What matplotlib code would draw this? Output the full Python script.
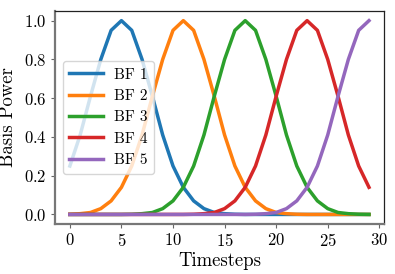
import numpy as np
import matplotlib.pyplot as plt

# basis function values, one per timestep 0..29
timesteps = list(range(30))
bf1 = [0.25, 0.41, 0.61, 0.80, 0.95, 1.00, 0.95, 0.80, 0.61, 0.41,
       0.25, 0.14, 0.07, 0.03, 0.01, 0.004, 0.001, 0, 0, 0,
       0, 0, 0, 0, 0, 0, 0, 0, 0, 0]
bf2 = [0.001, 0.004, 0.01, 0.03, 0.07, 0.14, 0.25, 0.41, 0.61, 0.80,
       0.95, 1.00, 0.95, 0.80, 0.61, 0.41, 0.25, 0.14, 0.07, 0.03,
       0.01, 0.004, 0.001, 0, 0, 0, 0, 0, 0, 0]
bf3 = [0, 0, 0, 0, 0, 0, 0.001, 0.004, 0.01, 0.03,
       0.07, 0.14, 0.25, 0.41, 0.61, 0.80, 0.95, 1.00, 0.95, 0.80,
       0.61, 0.41, 0.25, 0.14, 0.07, 0.03, 0.01, 0.004, 0.001, 0]
bf4 = [0, 0, 0, 0, 0, 0, 0, 0, 0, 0,
       0, 0, 0.001, 0.004, 0.01, 0.03, 0.07, 0.14, 0.25, 0.41,
       0.61, 0.80, 0.95, 1.00, 0.95, 0.80, 0.61, 0.41, 0.25, 0.14]
bf5 = [0, 0, 0, 0, 0, 0, 0, 0, 0, 0,
       0, 0, 0, 0, 0, 0, 0, 0, 0.001, 0.004,
       0.01, 0.03, 0.07, 0.14, 0.25, 0.41, 0.61, 0.80, 0.95, 1.00]
labels = ['BF 1', 'BF 2', 'BF 3', 'BF 4', 'BF 5']

plt.rcParams['font.family'] = 'cmr10'
plt.rcParams['axes.formatter.use_mathtext'] = True
plt.rcParams['mathtext.fontset'] = 'cm'

fig, ax = plt.subplots(figsize=(3.95, 2.74), dpi=100)
fig.subplots_adjust(left=0.139, right=0.972, top=0.96, bottom=0.182)

for series, lab in zip([bf1, bf2, bf3, bf4, bf5], labels):
    ax.plot(timesteps, series, lw=2.5, label=lab)

ax.set_xticks([0, 5, 10, 15, 20, 25, 30])
ax.set_yticks([0.0, 0.2, 0.4, 0.6, 0.8, 1.0])
ax.set_xlabel('Timesteps', fontsize=13.5, labelpad=2)
ax.set_ylabel('Basis Power', fontsize=13.5, labelpad=5)
ax.tick_params(labelsize=12, length=3, color='#666666', pad=3)

for side in ['left', 'bottom']:
    ax.spines[side].set_color('#777777')
    ax.spines[side].set_linewidth(1.6)
for side in ['top', 'right']:
    ax.spines[side].set_color('#222222')
    ax.spines[side].set_linewidth(0.9)

ax.legend(loc='center left', fontsize=11, handlelength=2.2,
          handletextpad=0.7, labelspacing=0.5, borderpad=0.45,
          framealpha=0.8)

plt.savefig('out.png', dpi=100)
